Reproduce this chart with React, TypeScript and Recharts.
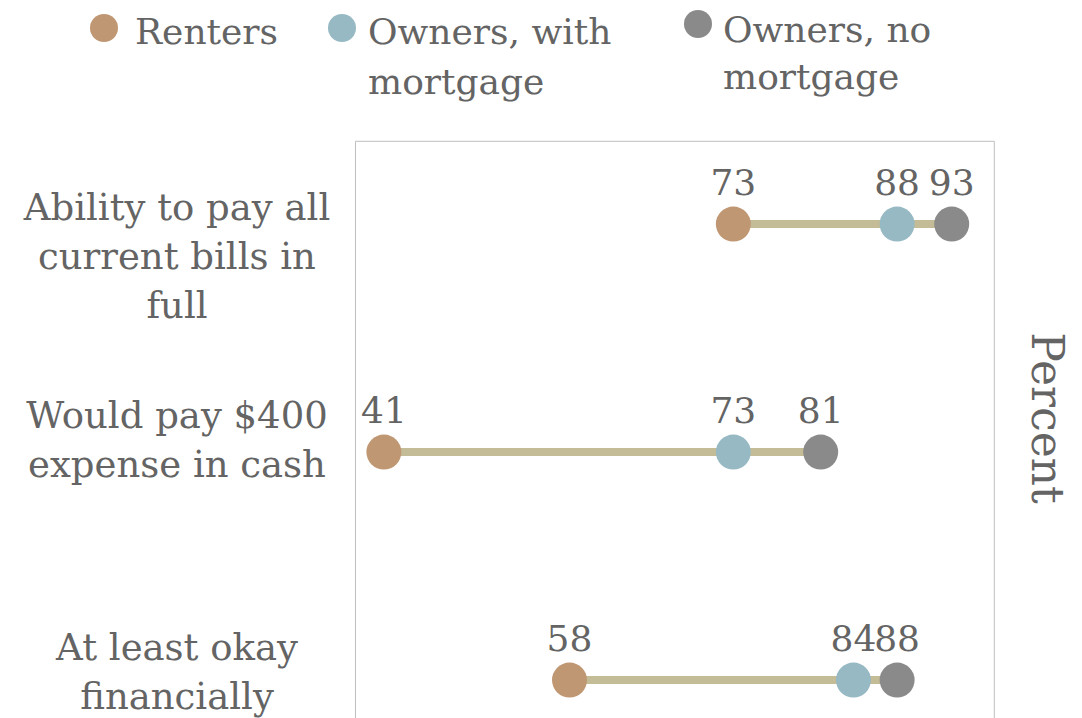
import React from 'react';
import { ScatterChart, Scatter, XAxis, YAxis, ReferenceArea, Legend, Customized } from 'recharts';

// ---------- data ----------
const categories = [
  'Ability to pay all\ncurrent bills in\nfull',
  'Would pay $400\nexpense in cash',
  'At least okay\nfinancially',
];
const renters = [73, 41, 58];
const ownersWithMortgage = [88, 73, 84];
const ownersNoMortgage = [93, 81, 88];
const seriesNames = ['Renters', 'Owners, with\nmortgage', 'Owners, no\nmortgage'];
const axisTitle = 'Percent';

// ---------- style ----------
const FONT = '"DejaVu Serif", serif';
const TEXT = '#646464';
const COLORS = ['#C09773', '#96B9C4', '#8A8A8A'];
const LINE_COLOR = '#C4BC96';
const BORDER = '#BFBFBF';
const X_DOMAIN: [number, number] = [38.4, 96.9];
const Y_DOMAIN: [number, number] = [0.474, 3.363];
const TICK_DY = [-4, -24, -20];
const LEGEND_ITEMS_LAYOUT = [
  { textX: 135, top: 6.5, lh: 50, cx: 104, cy: 27.5 },
  { textX: 368, top: 6.5, lh: 50, cx: 341.5, cy: 27.5 },
  { textX: 723, top: 5.5, lh: 47, cx: 698, cy: 23.5 },
];

const rowY = (i: number) => categories.length - i;
const toPoints = (vals: number[]) => vals.map((v, i) => ({ x: v, y: rowY(i) }));

const series = [renters, ownersWithMortgage, ownersNoMortgage];
const connectors = categories.map((_, i) => {
  const vals = series.map((s) => s[i]);
  return [
    { x: Math.min(...vals), y: rowY(i) },
    { x: Math.max(...vals), y: rowY(i) },
  ];
});

const makeDot = (color: string) => (props: any) => {
  const { cx, cy, payload } = props;
  return (
    <g>
      <circle cx={cx} cy={cy} r={17.5} fill={color} />
      <text
        x={cx}
        y={cy - 29}
        textAnchor="middle"
        fill={TEXT}
        fontFamily={FONT}
        fontSize={36}
      >
        {payload.x}
      </text>
    </g>
  );
};

const emptyShape = () => <g />;

const CategoryTick = (props: any) => {
  const { y, payload } = props;
  const idx = categories.length - Math.round(payload.value);
  if (idx < 0 || idx >= categories.length) return <g />;
  const lines = categories[idx].split('\n');
  return (
    <text
      x={177}
      y={y + TICK_DY[idx]}
      textAnchor="middle"
      fill={TEXT}
      fontFamily={FONT}
      fontSize={37}
    >
      {lines.map((l, k) => (
        <tspan key={k} x={177} dy={k === 0 ? 0 : 49}>
          {l}
        </tspan>
      ))}
    </text>
  );
};

const LegendContent = () => (
  <div
    style={{
      position: 'relative',
      width: 1082,
      height: 110,
      fontFamily: FONT,
      fontSize: 36,
      color: TEXT,
    }}
  >
    {seriesNames.map((name, i) => {
      const L = LEGEND_ITEMS_LAYOUT[i];
      return (
        <React.Fragment key={name}>
          <span
            style={{
              position: 'absolute',
              left: L.cx - 14,
              top: L.cy - 14,
              width: 28,
              height: 28,
              borderRadius: '50%',
              background: COLORS[i],
            }}
          />
          <span
            style={{
              position: 'absolute',
              left: L.textX,
              top: L.top,
              lineHeight: `${L.lh}px`,
              whiteSpace: 'pre',
            }}
          >
            {name}
          </span>
        </React.Fragment>
      );
    })}
  </div>
);

const PercentTitle = () => (
  <text
    x={1032}
    y={418}
    transform="rotate(90, 1032, 418)"
    textAnchor="middle"
    fill={TEXT}
    fontFamily={FONT}
    fontSize={44}
  >
    {axisTitle}
  </text>
);

export default function App() {
  return (
    <div
      style={{
        position: 'absolute',
        top: 0,
        left: 0,
        width: 1082,
        height: 718,
        overflow: 'hidden',
        background: '#fff',
      }}
    >
      <ScatterChart
        width={1082}
        height={800}
        margin={{ top: 141.3, right: 87.7, bottom: 0, left: 0 }}
      >
        <XAxis
          type="number"
          dataKey="x"
          domain={X_DOMAIN}
          allowDataOverflow
          hide
        />
        <YAxis
          type="number"
          dataKey="y"
          domain={Y_DOMAIN}
          allowDataOverflow
          ticks={[1, 2, 3]}
          width={355.5}
          axisLine={false}
          tickLine={false}
          tick={<CategoryTick />}
          interval={0}
        />
        <ReferenceArea
          x1={X_DOMAIN[0]}
          x2={X_DOMAIN[1]}
          y1={Y_DOMAIN[0]}
          y2={Y_DOMAIN[1]}
          fill="none"
          fillOpacity={0}
          stroke={BORDER}
          strokeWidth={1}
          ifOverflow="visible"
        />
        {connectors.map((pts, i) => (
          <Scatter
            key={`conn-${i}`}
            data={pts}
            line={{ stroke: LINE_COLOR, strokeWidth: 8 }}
            lineType="joint"
            shape={emptyShape}
            legendType="none"
            isAnimationActive={false}
          />
        ))}
        <Scatter
          name="Renters"
          data={toPoints(renters)}
          shape={makeDot(COLORS[0])}
          fill={COLORS[0]}
          isAnimationActive={false}
        />
        <Scatter
          name="Owners, with mortgage"
          data={toPoints(ownersWithMortgage)}
          shape={makeDot(COLORS[1])}
          fill={COLORS[1]}
          isAnimationActive={false}
        />
        <Scatter
          name="Owners, no mortgage"
          data={toPoints(ownersNoMortgage)}
          shape={makeDot(COLORS[2])}
          fill={COLORS[2]}
          isAnimationActive={false}
        />
        <Legend
          layout="horizontal"
          verticalAlign="middle"
          align="center"
          content={<LegendContent />}
          wrapperStyle={{ top: 0, left: 0, width: 1082, height: 110 }}
        />
        <Customized component={PercentTitle} />
      </ScatterChart>
    </div>
  );
}
